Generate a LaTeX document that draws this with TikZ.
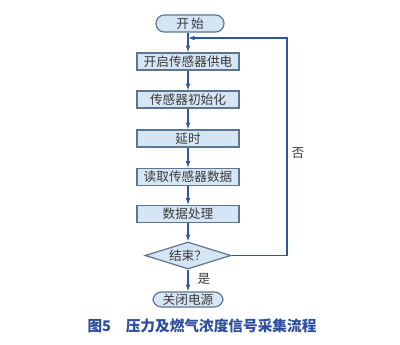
\documentclass[tikz,border=0pt]{standalone}
\usepackage{fontspec}
\setmainfont{Noto Sans CJK SC}
\usetikzlibrary{shapes.geometric,arrows.meta}
\definecolor{boxfill}{HTML}{D6E5F3}
\definecolor{boxline}{HTML}{5C7590}
\definecolor{arrowblue}{HTML}{2F55A4}
\definecolor{textgray}{HTML}{3A3A3A}
\definecolor{captionblue}{HTML}{2C4E9C}
\tikzset{
  proc/.style={draw=boxline, line width=0.9pt, fill=boxfill, text=textgray,
    minimum width=76.5pt, minimum height=12.75pt, inner sep=0pt, font=\fontsize{9.5}{10}\selectfont},
  term/.style={proc, rounded corners=6.3pt, minimum width=51pt},
  decide/.style={proc, diamond, aspect=3.2, minimum width=64.5pt, minimum height=20.25pt},
  flow/.style={draw=arrowblue, line width=0.8pt, -{Latex[length=5pt,width=3.5pt]}},
}
\begin{document}
\begin{tikzpicture}[x=0.75pt, y=-0.75pt]
    \useasboundingbox (0,0) rectangle (400,344);
    \node[term] (a) at (190, 23.5) {开\,始};
    \node[proc] (b) at (188, 61.5) {开启传感器供电};
    \node[proc] (c) at (188, 99.5) {传感器初始化};
    \node[proc] (d) at (188, 138.5) {延时};
    \node[proc] (e) at (188, 177) {读取传感器数据};
    \node[proc] (f) at (188, 214) {数据处理};
    \node[decide] (g) at (188, 255.5) {结束？};
    \node[term, minimum width=52.5pt, minimum height=11.25pt] (h) at (188, 299.5) {关闭电源};
    \coordinate (r1) at (287, 255.5);
    \coordinate (r2) at (287, 38);
    \coordinate (m) at (188, 38);
    \node[text=textgray, font=\fontsize{9.5}{10}\selectfont] (no) at (298, 153) {否};
    \node[text=textgray, font=\fontsize{9.5}{10}\selectfont] (yes) at (204, 279) {是};
    \node[text=captionblue, font=\fontsize{11}{12}\selectfont\bfseries] (cap) at (202, 326) {图5\quad 压力及燃气浓度信号采集流程};
    \foreach \u/\v in {b/c,c/d,d/e,e/f,f/g,g/h} { \draw[flow] (\u) -- (\v); }
    \draw[flow] (a.south -| m) -- (b);
    \draw[flow] (g.east) -- (r1) -- (r2) -- (m);
  \end{tikzpicture}
\end{document}
